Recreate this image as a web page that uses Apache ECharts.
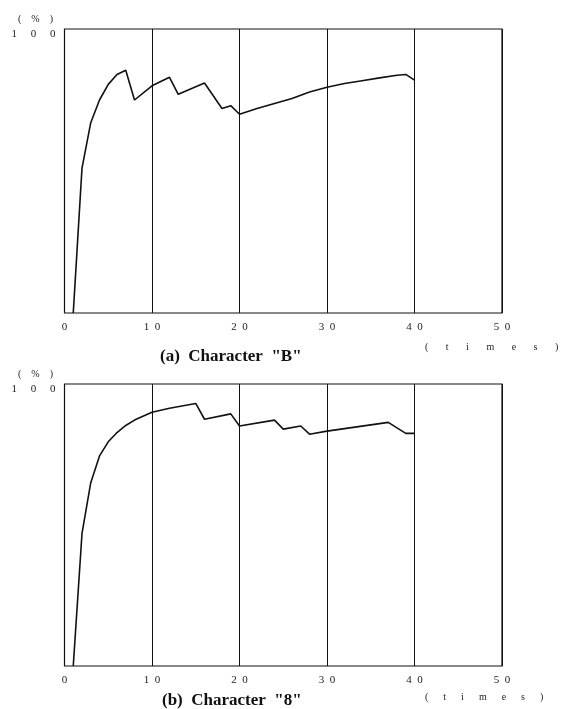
<!DOCTYPE html>
<html><head><meta charset="utf-8">
<script src="https://cdn.jsdelivr.net/npm/echarts@6/dist/echarts.min.js"></script>
<style>html,body{margin:0;padding:0;background:#fff}#c{width:562px;height:709px}</style>
</head><body><div id="c"></div>
<script>
// Character "B"
const timesB = [1,2,3,4,5,6,7,8,10,12,13,16,18,19,20,22,24,26,28,30,32,34,36,38,39,40];
const rateB  = [0,51,67,75,80.5,84,85.5,75,80,83,77,81,72,73,70,72,73.8,75.5,77.8,79.5,80.8,81.8,82.8,83.7,84,82];
// Character "8"
const times8 = [1,2,3,4,5,6,7,8,10,12,15,16,19,20,24,25,27,28,30,37,39,40];
const rate8  = [0,47,65,74.5,79.5,82.8,85.3,87.2,90,91.4,93.1,87.5,89.4,85.1,87.2,84,85.1,82.2,83.3,86.4,82.5,82.5];
const xTicks = [0,10,20,30,40,50];
const yTickLabel = 100;
const captions = ['(a)  Character  "B"', '(b)  Character  "8"'];
const xName = '(times)';
const yName = '(%)';

const serif = 'Liberation Serif';
const spread = (s, gap) => String(s).split('').join(gap);
const EN = '\u2002', EM = '\u2003';
function xAxis(gi){
  return {gridIndex:gi,type:'value',min:xTicks[0],max:xTicks[xTicks.length-1],interval:10,
    axisLine:{show:false},axisTick:{show:false},
    axisLabel:{color:'#222',fontFamily:serif,fontSize:11,margin:9,formatter:v=>spread(v,EN)},
    splitLine:{show:true,lineStyle:{color:'#111',width:1}}};
}
function yAxis(gi){
  return {gridIndex:gi,type:'value',min:0,max:100,interval:100,
    axisLine:{show:false},axisTick:{show:false},splitLine:{show:false},
    axisLabel:{color:'#222',fontFamily:serif,fontSize:11,margin:9,verticalAlign:'top',lineHeight:10,
      formatter:v=>v===yTickLabel?spread(v,EM+' '):''}};
}
const grids=[{left:64.5,top:29,width:437.5,height:284},{left:64.5,top:384,width:437.5,height:282}];
const small={fontFamily:serif,fontSize:10,fontWeight:'normal',color:'#222'};
const big={fontFamily:serif,fontSize:17,fontWeight:'bold',color:'#111'};
const chart = echarts.init(document.getElementById('c'));
chart.setOption({
  animation:false,
  backgroundColor:'#fff',
  grid:grids.map(g=>Object.assign({show:true,borderColor:'#111',borderWidth:1.2,backgroundColor:'transparent'},g)),
  xAxis:[xAxis(0),xAxis(1)],
  yAxis:[yAxis(0),yAxis(1)],
  title:[
    {text:spread(yName,EM),left:13,top:9,textStyle:small},
    {text:spread(yName,EM),left:13,top:364,textStyle:small},
    {text:spread(xName,EM+EN+' '),left:420,top:337,textStyle:small},
    {text:spread(xName,EM+EN),left:420,top:687,textStyle:small},
    {text:captions[0],left:155,top:343,textStyle:big},
    {text:captions[1],left:157,top:687,textStyle:big}
  ],
  series:[
    {type:'line',xAxisIndex:0,yAxisIndex:0,data:timesB.map((t,i)=>[t,rateB[i]]),showSymbol:false,lineStyle:{color:'#111',width:1.6}},
    {type:'line',xAxisIndex:1,yAxisIndex:1,data:times8.map((t,i)=>[t,rate8[i]]),showSymbol:false,lineStyle:{color:'#111',width:1.6}}
  ]
});
</script></body></html>
